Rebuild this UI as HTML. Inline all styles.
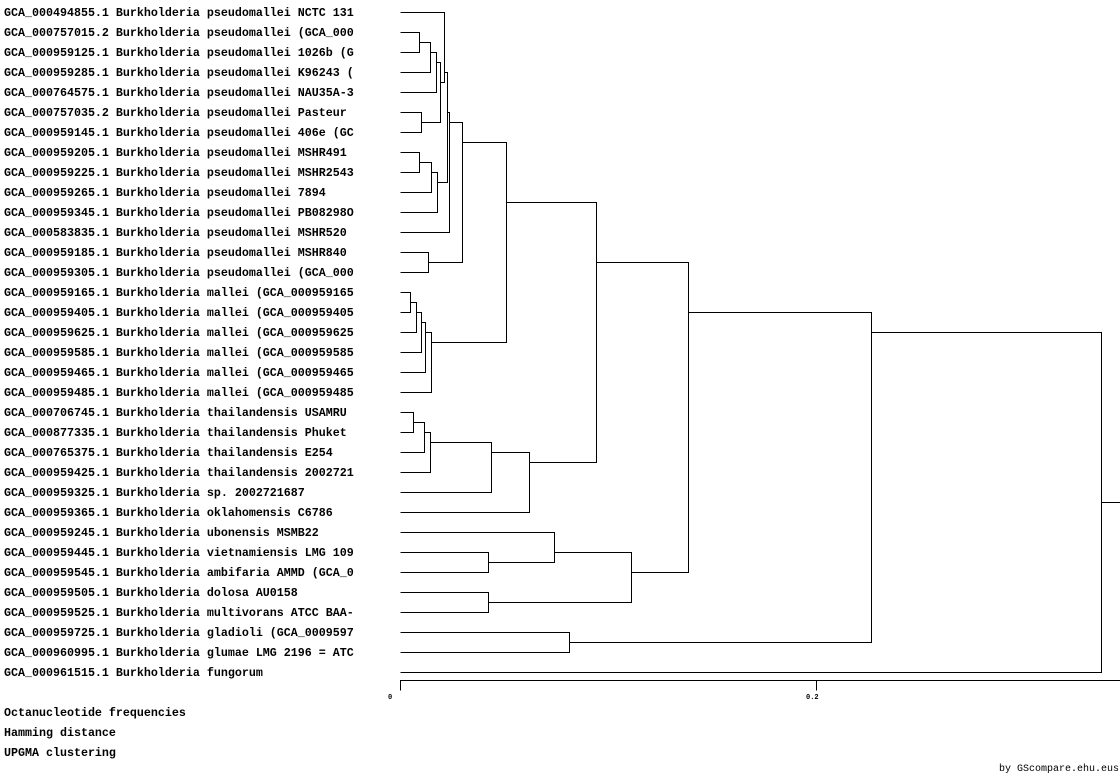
<!DOCTYPE html>
<html><head><meta charset="utf-8"><style>
html,body{margin:0;padding:0;background:#fff;}
svg{display:block;}
text{font-family:"Liberation Mono","DejaVu Sans Mono",monospace;font-size:11.67px;font-weight:bold;fill:#000;}
</style></head><body>
<svg width="1120" height="780" viewBox="0 0 1120 780" xmlns="http://www.w3.org/2000/svg">
<g>
<text x="4" y="16">GCA_000494855.1 Burkholderia pseudomallei NCTC 131</text>
<text x="4" y="36">GCA_000757015.2 Burkholderia pseudomallei (GCA_000</text>
<text x="4" y="56">GCA_000959125.1 Burkholderia pseudomallei 1026b (G</text>
<text x="4" y="76">GCA_000959285.1 Burkholderia pseudomallei K96243 (</text>
<text x="4" y="96">GCA_000764575.1 Burkholderia pseudomallei NAU35A-3</text>
<text x="4" y="116">GCA_000757035.2 Burkholderia pseudomallei Pasteur</text>
<text x="4" y="136">GCA_000959145.1 Burkholderia pseudomallei 406e (GC</text>
<text x="4" y="156">GCA_000959205.1 Burkholderia pseudomallei MSHR491</text>
<text x="4" y="176">GCA_000959225.1 Burkholderia pseudomallei MSHR2543</text>
<text x="4" y="196">GCA_000959265.1 Burkholderia pseudomallei 7894</text>
<text x="4" y="216">GCA_000959345.1 Burkholderia pseudomallei PB08298O</text>
<text x="4" y="236">GCA_000583835.1 Burkholderia pseudomallei MSHR520</text>
<text x="4" y="256">GCA_000959185.1 Burkholderia pseudomallei MSHR840</text>
<text x="4" y="276">GCA_000959305.1 Burkholderia pseudomallei (GCA_000</text>
<text x="4" y="296">GCA_000959165.1 Burkholderia mallei (GCA_000959165</text>
<text x="4" y="316">GCA_000959405.1 Burkholderia mallei (GCA_000959405</text>
<text x="4" y="336">GCA_000959625.1 Burkholderia mallei (GCA_000959625</text>
<text x="4" y="356">GCA_000959585.1 Burkholderia mallei (GCA_000959585</text>
<text x="4" y="376">GCA_000959465.1 Burkholderia mallei (GCA_000959465</text>
<text x="4" y="396">GCA_000959485.1 Burkholderia mallei (GCA_000959485</text>
<text x="4" y="416">GCA_000706745.1 Burkholderia thailandensis USAMRU</text>
<text x="4" y="436">GCA_000877335.1 Burkholderia thailandensis Phuket</text>
<text x="4" y="456">GCA_000765375.1 Burkholderia thailandensis E254</text>
<text x="4" y="476">GCA_000959425.1 Burkholderia thailandensis 2002721</text>
<text x="4" y="496">GCA_000959325.1 Burkholderia sp. 2002721687</text>
<text x="4" y="516">GCA_000959365.1 Burkholderia oklahomensis C6786</text>
<text x="4" y="536">GCA_000959245.1 Burkholderia ubonensis MSMB22</text>
<text x="4" y="556">GCA_000959445.1 Burkholderia vietnamiensis LMG 109</text>
<text x="4" y="576">GCA_000959545.1 Burkholderia ambifaria AMMD (GCA_0</text>
<text x="4" y="596">GCA_000959505.1 Burkholderia dolosa AU0158</text>
<text x="4" y="616">GCA_000959525.1 Burkholderia multivorans ATCC BAA-</text>
<text x="4" y="636">GCA_000959725.1 Burkholderia gladioli (GCA_0009597</text>
<text x="4" y="656">GCA_000960995.1 Burkholderia glumae LMG 2196 = ATC</text>
<text x="4" y="676">GCA_000961515.1 Burkholderia fungorum</text>
<text x="4" y="716">Octanucleotide frequencies</text>
<text x="4" y="736">Hamming distance</text>
<text x="4" y="756">UPGMA clustering</text>
<text x="999" y="771" style="font-size:10px;font-weight:normal">by GScompare.ehu.eus</text>
<text x="388" y="699" style="font-size:7px">0</text>
<text x="806" y="699" style="font-size:7px">0.2</text>
</g>
<g fill="none" stroke="#000" stroke-width="1" shape-rendering="crispEdges" transform="translate(0.5,0.5)">
<path d="M400 32H419V52H400"/>
<path d="M419 42H430V72H400"/>
<path d="M430 52H436V92H400"/>
<path d="M400 112H421V132H400"/>
<path d="M436 62H440V122H421"/>
<path d="M400 12H444V82H440"/>
<path d="M400 152H419V172H400"/>
<path d="M419 162H431V192H400"/>
<path d="M431 172H437V212H400"/>
<path d="M444 72H447V182H437"/>
<path d="M447 112H449V232H400"/>
<path d="M400 252H428V272H400"/>
<path d="M449 122H462V262H428"/>
<path d="M400 292H410V312H400"/>
<path d="M410 302H416V332H400"/>
<path d="M416 312H421V352H400"/>
<path d="M421 322H425V372H400"/>
<path d="M425 332H431V392H400"/>
<path d="M462 142H506V342H431"/>
<path d="M400 412H413V432H400"/>
<path d="M413 422H424V452H400"/>
<path d="M424 432H430V472H400"/>
<path d="M430 442H491V492H400"/>
<path d="M491 452H529V512H400"/>
<path d="M506 202H596V462H529"/>
<path d="M400 552H488V572H400"/>
<path d="M400 532H554V562H488"/>
<path d="M400 592H488V612H400"/>
<path d="M554 552H631V602H488"/>
<path d="M596 262H688V572H631"/>
<path d="M400 632H569V652H400"/>
<path d="M688 312H871V642H569"/>
<path d="M871 332H1101V672H400"/>
<path d="M1101 502H1120"/>
<path d="M400 690V680H1120"/>
<path d="M816 680V690"/>
</g>
</svg>
</body></html>
